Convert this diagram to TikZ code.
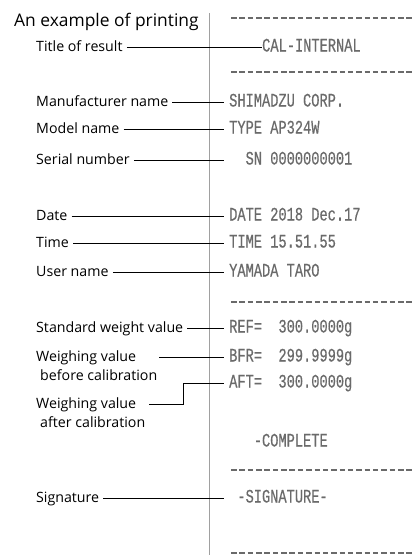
\documentclass[tikz,border=0pt]{standalone}
\usepackage{fontspec}
\setmainfont{Open Sans}
\newfontfamily\prnfont[FakeStretch=0.72,FakeBold=0.5]{Liberation Mono}
\usetikzlibrary{positioning}
\definecolor{prngray}{HTML}{6A6A6A}
\definecolor{rulegray}{HTML}{A0A0A0}
\tikzset{
	lbl/.style={anchor=west, inner sep=0pt, text height=12.5pt, text depth=3.5pt, font=\fontsize{14.2}{16}\selectfont},
	prn/.style={anchor=west, inner sep=0pt, text height=12pt, text depth=3pt, text=prngray, font=\prnfont\fontsize{19}{21}\selectfont},
	lead/.style={line width=0.7pt},
	perf/.style={prngray, line width=1.2pt, dash pattern=on 5.5pt off 2.85pt}
}
\newcommand {\pad}{\hphantom{0}}
\newcommand {\callout}[4] {\node[lbl] (#1-l) at (36,#2) {#3};\node[prn] (#1) at (229,#2) {#4};\draw[lead] ([xshift=4pt]#1-l.east) -- ([xshift=-5pt]#1-l.east -| #1.west);}
\newcommand {\perfline}[1] {\draw[perf] (231,#1) -- (413,#1);}

\begin{document}
\begin{tikzpicture}[x=1pt,y=-1pt]
	\useasboundingbox (0,0) rectangle (413,555);
	\node[anchor=base west, inner sep=0pt, font=\fontsize{17.4}{19}\selectfont] (head) at (14,26.5) {An example of printing};
	\draw[rulegray, line width=0.8pt] (209,13) -- (209,555);
	\perfline{18}
	\perfline{72}
	\perfline{302}
	\perfline{470}
	\perfline{553}
	\node[lbl] (title-l) at (36,47) {Title of result};
	\node[prn] (cal) at (262,47) {CAL-INTERNAL};
	\draw[lead] ([xshift=4pt]title-l.east) -- (title-l.east -| cal.west);
	\callout{maker}{102}{Manufacturer name}{SHIMADZU CORP.}
	\callout{model}{129}{Model name}{TYPE AP324W}
	\callout{serial}{160}{Serial number}{\pad\pad SN 0000000001}
	\callout{date}{216}{Date}{DATE 2018 Dec.17}
	\callout{time}{243}{Time}{TIME 15.51.55}
	\callout{user}{272}{User name}{YAMADA TARO}
	\callout{ref}{328}{Standard weight value}{REF=\pad\pad300.0000g}
	\node[lbl] (bfr-l) at (36,357) {Weighing value};
	\node[lbl, below right=3pt and 4pt of bfr-l.south west] (bfr-l2) {before calibration};
	\node[prn] (bfr) at (229,357) {BFR=\pad\pad299.9999g};
	\draw[lead] ([xshift=23pt]bfr-l.east) -- ([xshift=-5pt]bfr-l.east -| bfr.west);
	\node[prn] (aft) at (229,383) {AFT=\pad\pad300.0000g};
	\node[lbl] (aft-l) at (36,404) {Weighing value};
	\node[lbl, below right=3pt and 4pt of aft-l.south west] (aft-l2) {after calibration};
	\draw[lead] ([xshift=13pt]aft-l.east) -| ([xshift=-46pt]aft.west) -- ([xshift=-5pt]aft.west);
	\node[prn] (done) at (229,442) {\pad\pad\pad-COMPLETE};
	\callout{sign}{498}{Signature}{\pad-SIGNATURE-}
\end{tikzpicture}
\end{document}
